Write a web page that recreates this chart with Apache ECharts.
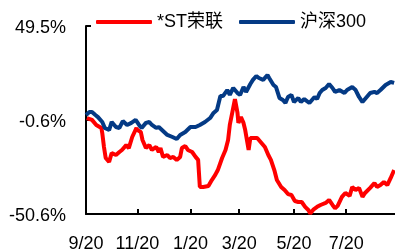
<!DOCTYPE html>
<html>
<head>
<meta charset="utf-8">
<script src="https://cdn.jsdelivr.net/npm/echarts@6/dist/echarts.min.js"></script>
<style>
html, body { margin: 0; padding: 0; background: #fff; }
#main { width: 395px; height: 251px; }
</style>
</head>
<body>
<div id="main"></div>
<script>
// 距 2019/9/20 的天数 + 累计涨跌幅(%)
var seriesNames = ['*ST荣联', '沪深300'];

var rlDays = [1, 7, 12, 18, 19, 21, 23, 27, 30, 35, 39, 42, 47, 50, 54, 59, 60, 64, 66, 70,
  74, 77, 82, 85, 87, 90, 95, 98, 102, 106, 110, 112, 116, 119, 124, 128, 131, 133, 137, 143,
  147, 151, 154, 159, 163, 166, 168, 171, 174, 177, 178, 181, 184, 186, 190, 192, 197, 200, 206, 209,
  213, 216, 220, 223, 228, 232, 236, 240, 244, 248, 252, 256, 260, 262, 266, 270, 274, 276, 280, 284,
  288, 291, 294, 299, 303, 308, 311, 315, 319, 323, 326, 332, 337, 340, 344, 348, 352, 356, 360];
var rlValues = [0.5, -0.5, -3.2, -4.8, -7.5, -14.9, -20.8, -22.9, -18.1, -19.2, -17.6, -16.5, -13.9, -15.5, -9.6, -4.8, -5.9, -6.9, -11.2, -15.5,
  -13.9, -16.5, -14.9, -17.6, -15.5, -20.2, -19.2, -20.8, -20.2, -21.8, -20.2, -15.5, -14.4, -16.5, -17.6, -20.2, -21.8, -36.2, -36.2, -35.7,
  -32.5, -29.8, -27.2, -20.8, -16.5, -11.2, -3.2, 3.7, 10.6, 3.2, -2.1, 1.0, -2.1, -5.9, -16.5, -10.1, -10.1, -10.1, -13.3, -14.9,
  -19.2, -21.8, -27.2, -32.5, -36.2, -37.8, -40.0, -40.5, -43.7, -44.2, -44.2, -46.8, -48.6, -50.3, -48.1, -46.8, -45.8, -46.3, -44.7, -43.1,
  -45.8, -47.6, -46.3, -41.5, -39.4, -41.0, -36.2, -37.8, -36.7, -41.5, -39.4, -36.7, -34.1, -36.2, -35.2, -33.6, -35.2, -31.4, -27.2];

var hsDays = [0, 4, 7, 11, 14, 19, 22, 27, 30, 35, 39, 43, 48, 53, 58, 62, 65, 70, 74, 77,
  82, 85, 90, 95, 101, 106, 110, 116, 122, 128, 133, 139, 145, 149, 153, 157, 160, 165, 168, 172,
  177, 180, 184, 187, 192, 195, 199, 202, 207, 212, 214, 219, 222, 226, 230, 233, 236, 240, 243, 248,
  251, 255, 261, 267, 270, 273, 276, 280, 284, 288, 291, 296, 302, 305, 311, 315, 319, 323, 326, 332,
  337, 340, 344, 350, 356, 360];
var hsValues = [2.1, 3.7, 3.7, 2.1, 1.0, -1.6, -4.8, -5.9, -1.6, -4.3, -4.8, -1.1, -3.2, -2.1, -0.5, -3.2, -4.8, -2.1, -1.6, -3.2,
  -4.8, -4.3, -6.4, -8.5, -9.6, -10.7, -8.5, -6.9, -4.3, -4.3, -3.2, -1.6, 0.5, 3.2, 4.8, 12.2, 12.2, 15.4, 12.8, 16.5,
  13.8, 12.8, 17.0, 14.4, 18.6, 20.8, 22.9, 21.8, 20.8, 23.4, 21.8, 18.1, 17.0, 11.2, 10.1, 8.5, 11.7, 12.8, 9.0, 11.2,
  9.0, 10.6, 8.5, 11.7, 10.6, 13.8, 15.4, 16.5, 18.6, 16.5, 14.4, 15.4, 13.8, 15.4, 17.0, 15.4, 11.7, 9.0, 10.6, 13.8,
  14.4, 13.8, 15.4, 18.1, 19.7, 19.2];

var xTickDays = [0, 60, 122, 179, 243, 304];
var xTickLabels = ['9/20', '11/20', '1/20', '3/20', '5/20', '7/20'];
var yTickLabels = ['-50.6%', '-0.6%', '49.5%'];

function pairs(xs, ys) {
  return xs.map(function (x, i) { return [x, ys[i]]; });
}

var font = '"Liberation Sans", Arial, "Noto Sans CJK SC", sans-serif';

var option = {
  animation: false,
  textStyle: { fontFamily: font },
  legend: {
    left: 91,
    top: 8,
    itemWidth: 56,
    itemHeight: 4,
    itemGap: 16,
    icon: 'roundRect',
    textStyle: { fontSize: 18, color: '#000', fontFamily: font },
    data: seriesNames
  },
  grid: { left: 86, top: 26, right: 0, bottom: 37, outerBoundsMode: 'none' },
  xAxis: {
    type: 'value',
    min: 0,
    max: 361,
    splitLine: { show: false },
    axisLine: { onZero: false, lineStyle: { color: '#000', width: 2 } },
    axisTick: { inside: true, length: 5, customValues: xTickDays, lineStyle: { color: '#000', width: 2 } },
    axisLabel: {
      customValues: xTickDays,
      margin: 21,
      fontSize: 18,
      color: '#000',
      formatter: function (v) {
        var i = xTickDays.indexOf(v);
        return i >= 0 ? xTickLabels[i] : '';
      }
    }
  },
  yAxis: {
    type: 'value',
    min: -50.6,
    max: 49.5,
    interval: 50.05,
    splitLine: { show: false },
    axisLine: { show: true, lineStyle: { color: '#000', width: 2 } },
    axisTick: { show: true, inside: true, length: 5, lineStyle: { color: '#000', width: 2 } },
    axisLabel: {
      margin: 20,
      fontSize: 18,
      color: '#000',
      verticalAlign: 'top',
      lineHeight: 4,
      formatter: function (v, idx) { return yTickLabels[idx]; }
    }
  },
  series: [
    {
      name: seriesNames[0],
      type: 'line',
      showSymbol: false,
      color: '#FF0000',
      lineStyle: { width: 4, color: '#FF0000' },
      data: pairs(rlDays, rlValues)
    },
    {
      name: seriesNames[1],
      type: 'line',
      showSymbol: false,
      color: '#043A85',
      lineStyle: { width: 4, color: '#043A85' },
      data: pairs(hsDays, hsValues)
    }
  ]
};

var myChart = echarts.init(document.getElementById('main'));
myChart.setOption(option);
</script>
</body>
</html>
